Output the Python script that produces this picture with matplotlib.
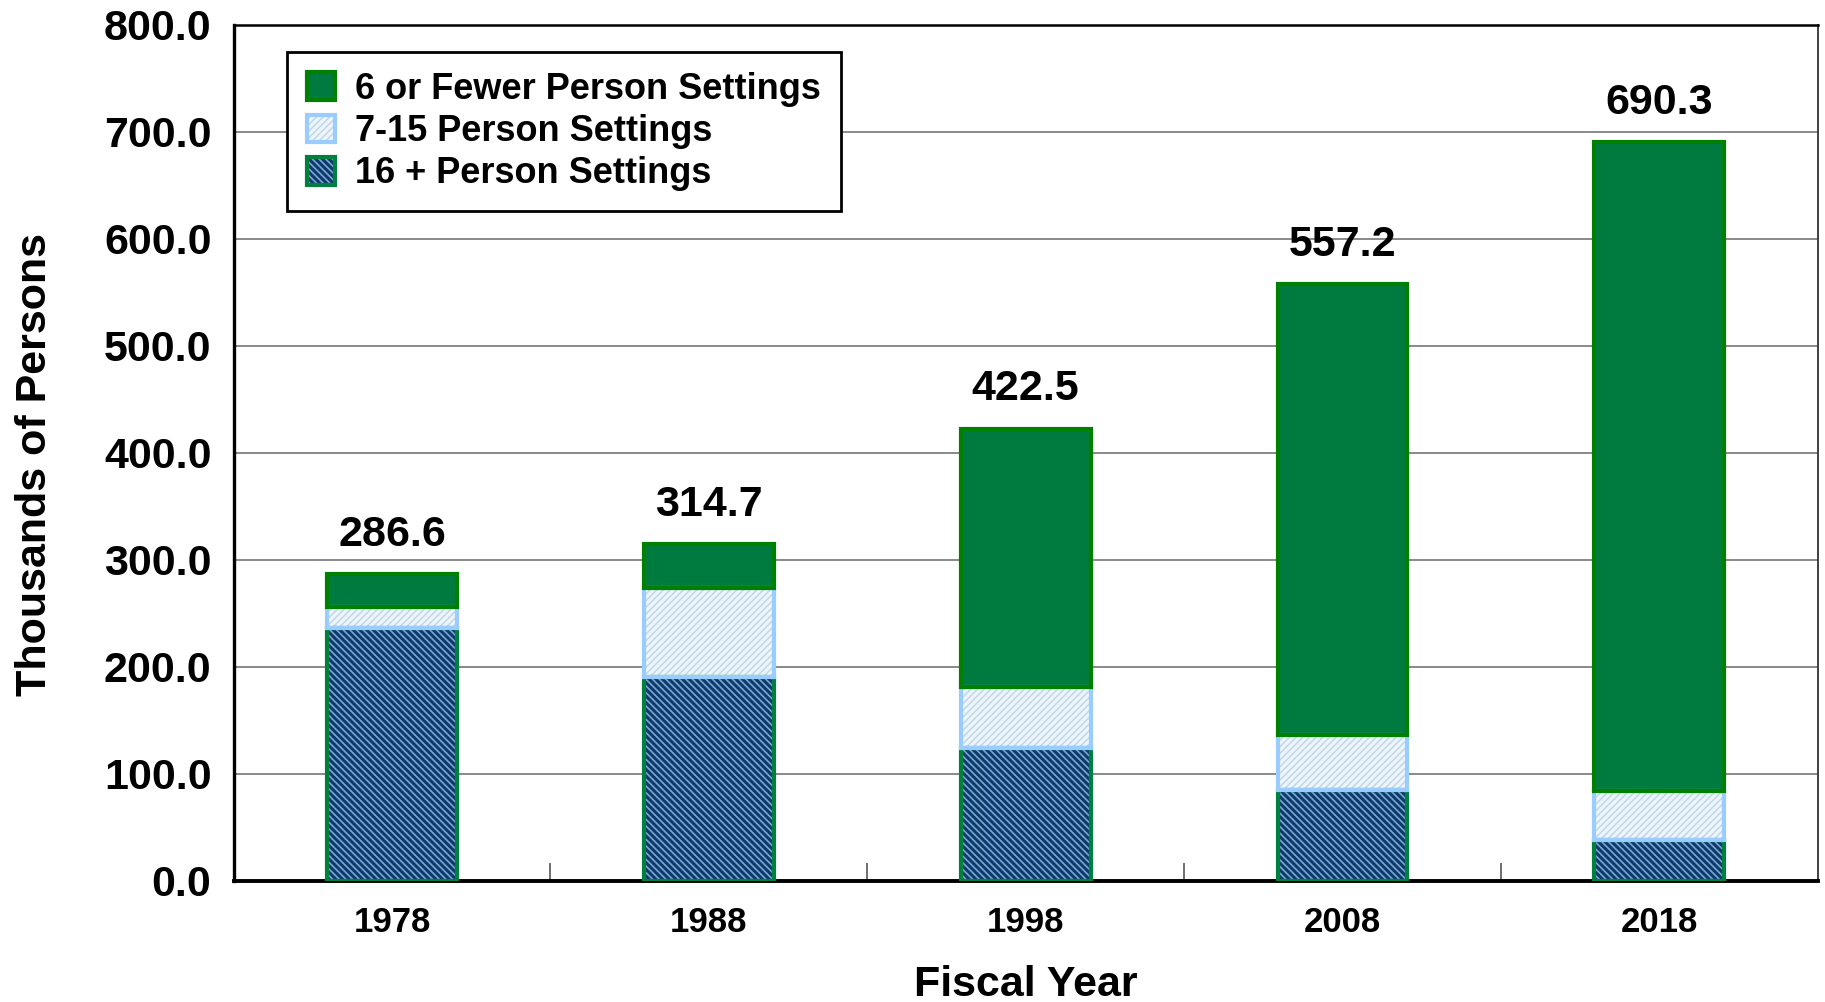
import matplotlib
matplotlib.use("Agg")
import matplotlib.pyplot as plt
from matplotlib.patches import Patch
from matplotlib.legend_handler import HandlerTuple
from matplotlib.ticker import FixedLocator

plt.rcParams["font.family"] = ["Liberation Sans", "DejaVu Sans"]
plt.rcParams["font.weight"] = "bold"
plt.rcParams["hatch.linewidth"] = 1.2

# ---- data (thousands of persons) ----
years = ["1978", "1988", "1998", "2008", "2018"]
large_16 = [236.0, 190.8, 124.5, 85.0, 38.3]      # 16 + person settings
mid_7_15 = [19.6, 82.6, 57.0, 51.4, 45.1]         # 7-15 person settings
small_6 = [31.0, 41.3, 241.0, 420.8, 606.9]       # 6 or fewer person settings
totals = [286.6, 314.7, 422.5, 557.2, 690.3]

# ---- styles ----
DARK_FACE, DARK_HATCH, DARK_EDGE = "#0b3a6e", "#7fa6cc", "#00803e"
MID_FACE, MID_HATCH, MID_EDGE = "#eef6fb", "#c3d9ea", "#99ccff"
SMALL_FACE, SMALL_EDGE = "#007b3f", "#008000"
W = 0.41

fig = plt.figure(figsize=(18.25, 10.02), dpi=100)
ax = fig.add_axes([0.128, 0.121, 0.868, 0.8545])

x = list(range(len(years)))
bottom_mid = large_16
bottom_small = [a + b for a, b in zip(large_16, mid_7_15)]


def stacked(vals, bottoms, face, hatch_col, hatch, edge):
    ax.bar(x, vals, W, bottom=bottoms, color=face, edgecolor=hatch_col,
           hatch=hatch, linewidth=0, zorder=3)
    ax.bar(x, vals, W, bottom=bottoms, fill=False, edgecolor=edge,
           linewidth=3, zorder=4)


stacked(large_16, None, DARK_FACE, DARK_HATCH, "\\" * 5, DARK_EDGE)
stacked(mid_7_15, bottom_mid, MID_FACE, MID_HATCH, "/" * 5, MID_EDGE)
stacked(small_6, bottom_small, SMALL_FACE, None, None, SMALL_EDGE)

for xi, tot in zip(x, totals):
    ax.annotate(f"{tot:.1f}", (xi, tot), xytext=(0, 14),
                textcoords="offset points", ha="center", va="bottom",
                fontsize=31, fontweight="bold")

# ---- axes ----
ax.set_xlim(-0.5, len(years) - 0.5)
ax.set_ylim(0, 800)
ax.set_yticks(range(0, 801, 100))
ax.set_yticklabels([f"{v:.1f}" for v in range(0, 801, 100)])
ax.yaxis.grid(True, color="#808080", linewidth=1.3, zorder=0)
ax.set_axisbelow(True)
ax.tick_params(axis="y", length=0, pad=16, labelsize=31)

ax.set_xticks(x)
ax.set_xticklabels(years)
ax.tick_params(axis="x", which="major", length=0, pad=18, labelsize=25)
ax.xaxis.set_minor_locator(FixedLocator([0.5, 1.5, 2.5, 3.5]))
ax.tick_params(axis="x", which="minor", direction="in", length=13,
               width=1.2, color="#555555")

ax.spines["left"].set_linewidth(2.4)
ax.spines["bottom"].set_linewidth(2.8)
ax.spines["top"].set_linewidth(1.8)
ax.spines["right"].set_linewidth(1.3)
ax.spines["right"].set_color("#333333")

ax.set_xlabel("Fiscal Year", fontsize=31, fontweight="bold", labelpad=19)
ax.set_ylabel("Thousands of Persons", fontsize=31, fontweight="bold")
ax.yaxis.set_label_coords(-0.113, 0.486)

# ---- legend ----
h_small = (Patch(facecolor=SMALL_FACE, edgecolor=SMALL_EDGE, linewidth=3),)
h_mid = (Patch(facecolor=MID_FACE, edgecolor=MID_HATCH, hatch="/" * 5, linewidth=0),
         Patch(fill=False, edgecolor=MID_EDGE, linewidth=3))
h_large = (Patch(facecolor=DARK_FACE, edgecolor=DARK_HATCH, hatch="\\" * 5, linewidth=0),
           Patch(fill=False, edgecolor=DARK_EDGE, linewidth=3))
leg = ax.legend([h_small, h_mid, h_large],
                ["6 or Fewer Person Settings", "7-15 Person Settings", "16 + Person Settings"],
                handler_map={tuple: HandlerTuple(ndivide=1)},
                loc="upper left", bbox_to_anchor=(0.0335, 0.968),
                prop={"weight": "bold", "size": 26},
                frameon=True, fancybox=False, edgecolor="black",
                handlelength=0.8, handleheight=0.8, handletextpad=0.55,
                labelspacing=0.2, borderpad=0.55, borderaxespad=0)
leg.get_frame().set_linewidth(2)
leg.get_frame().set_alpha(1)
leg.set_zorder(6)

fig.savefig("out.png", dpi=100)
